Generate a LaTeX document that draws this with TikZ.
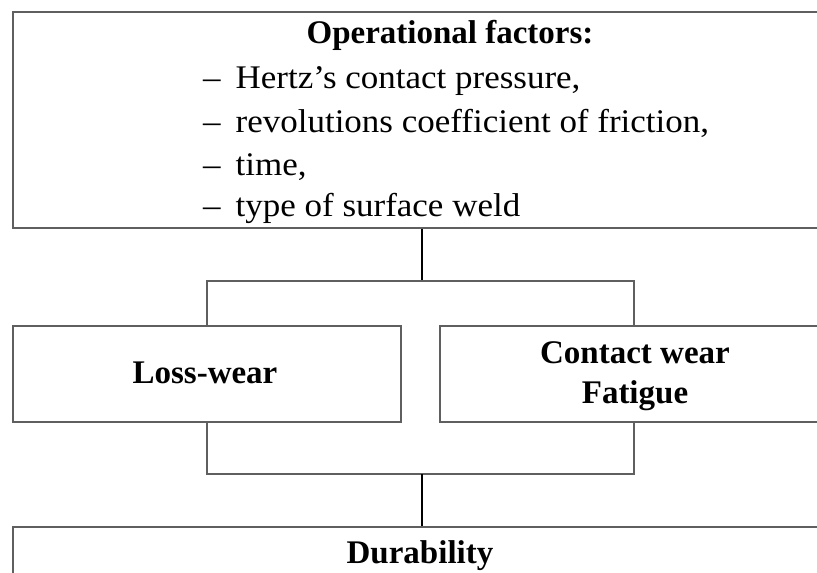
\documentclass[tikz,border=0pt]{standalone}
\usepackage{fontspec}
\setmainfont{Liberation Serif}
\newfontfamily\listfont[FakeStretch=1.06]{Liberation Serif}
\definecolor{edgegray}{RGB}{95,95,95}
\begin{document}
\begin{tikzpicture}[x=1pt,y=-1pt,
  box/.style={draw=edgegray, line width=2.3pt, rectangle, inner sep=0pt},
  bracket/.style={draw=edgegray, line width=2.3pt},
  thin/.style={draw=black, line width=1.1pt},
  head/.style={inner sep=0pt, anchor=base, font=\fontsize{33}{40}\selectfont\bfseries},
  item/.style={inner sep=0pt, anchor=base west, font=\fontsize{33}{40}\listfont}]
\useasboundingbox (0,0) rectangle (817,573);
\clip (0,0) rectangle (817,573);
\fill[white] (0,0) rectangle (817,573);
% boxes
\node[box, minimum width=817pt, minimum height=216pt] (top) at (421.5,120) {};
\node[box, minimum width=388pt, minimum height=96pt] (loss) at (207,374) {};
\node[box, minimum width=388pt, minimum height=96pt] (contact) at (634,374) {};
\node[box, minimum width=817pt, minimum height=100pt] (dur) at (421.5,577) {};
% texts
\node[head] (t0) at (450,43) {Operational factors:};
\node[item] (t1) at (203,88) {–\hspace{15pt}Hertz’s contact pressure,};
\node[item] (t2) at (203,132) {–\hspace{15pt}revolutions coefficient of friction,};
\node[item] (t3) at (203,175) {–\hspace{15pt}time,};
\node[item] (t4) at (203,216) {–\hspace{15pt}type of surface weld};
\node[head] (lw) at (205,383) {Loss-wear};
\node[head] (cw) at (635,363) {Contact wear};
\node[head] (fa) at (635,403) {Fatigue};
\node[head] (du) at (420,563) {Durability};
% connectors
\coordinate (up) at (422,281);
\coordinate (lo) at (422,474);
\draw[thin] (top.south -| up) -- (up);
\draw[bracket] (loss.north) |- (up) -| (contact.north);
\draw[bracket] (loss.south) |- (lo) -| (contact.south);
\draw[thin] (lo) -- (dur.north -| lo);
\end{tikzpicture}
\end{document}
